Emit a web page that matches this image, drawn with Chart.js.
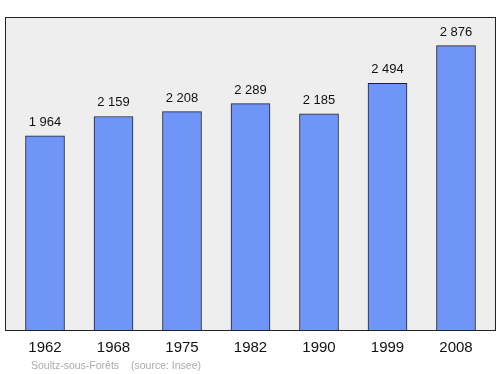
<!DOCTYPE html>
<html>
<head>
<meta charset="utf-8">
<script src="https://cdn.jsdelivr.net/npm/chart.js@4"></script>
<style>
  html, body { margin: 0; padding: 0; background: #fff; }
  #wrap { width: 500px; height: 374px; position: relative; }
</style>
</head>
<body>
<div id="wrap"><canvas id="c" width="500" height="374"></canvas></div>
<script>
const years = ['1962', '1968', '1975', '1982', '1990', '1999', '2008'];
const population = [1964, 2159, 2208, 2289, 2185, 2494, 2876];
const footerPlace = 'Soultz-sous-Forêts';
const footerSource = '(source: Insee)';

const fmt = v => String(v).replace(/\B(?=(\d{3})+(?!\d))/g, ' ');
const FONT = '"Liberation Sans", Arial, sans-serif';

const panel = {
    id: 'panel',
    beforeDraw(chart) {
        const a = chart.chartArea, ctx = chart.ctx;
        ctx.save();
        ctx.fillStyle = '#eeeeee';
        ctx.fillRect(a.left, a.top, a.right - a.left, a.bottom - a.top);
        ctx.restore();
    },
    afterDraw(chart) {
        const a = chart.chartArea, ctx = chart.ctx;
        ctx.save();
        ctx.strokeStyle = '#222';
        ctx.lineWidth = 1;
        ctx.strokeRect(a.left + 0.5, a.top + 0.5, a.right - a.left - 1, a.bottom - a.top);

        // value labels above bars
        ctx.fillStyle = '#111';
        ctx.font = '13px ' + FONT;
        ctx.textAlign = 'center';
        ctx.textBaseline = 'alphabetic';
        chart.getDatasetMeta(0).data.forEach((bar, i) => {
            ctx.fillText(fmt(population[i]), bar.x, bar.y - 10);
        });

        // footer
        ctx.fillStyle = '#aaaaaa';
        ctx.font = '10.5px ' + FONT;
        ctx.textAlign = 'left';
        ctx.fillText(footerPlace, 31, 369);
        ctx.fillText(footerSource, 131, 369);
        ctx.restore();
    }
};

new Chart(document.getElementById('c'), {
    type: 'bar',
    data: {
        datasets: [{
            data: population.map((v, i) => ({ x: i, y: v })),
            backgroundColor: '#7095f8',
            borderColor: '#222',
            borderWidth: 1,
            barThickness: 39
        }]
    },
    options: {
        responsive: false,
        animation: false,
        layout: { padding: { left: 5, right: 4, top: 17, bottom: 0 } },
        plugins: { legend: { display: false }, tooltip: { enabled: false } },
        scales: {
            x: {
                type: 'linear',
                offset: false,
                min: -0.584,
                max: 6.584,
                grid: { display: false, drawTicks: false },
                border: { display: false },
                afterBuildTicks(scale) {
                    scale.ticks = years.map((y, i) => ({ value: i }));
                },
                afterFit(scale) { scale.height = 44; },
                ticks: {
                    padding: 9,
                    color: '#111',
                    font: { family: FONT, size: 15 },
                    callback: v => years[v]
                }
            },
            y: {
                display: false,
                min: 0,
                max: 3165
            }
        }
    },
    plugins: [panel]
});
</script>
</body>
</html>
